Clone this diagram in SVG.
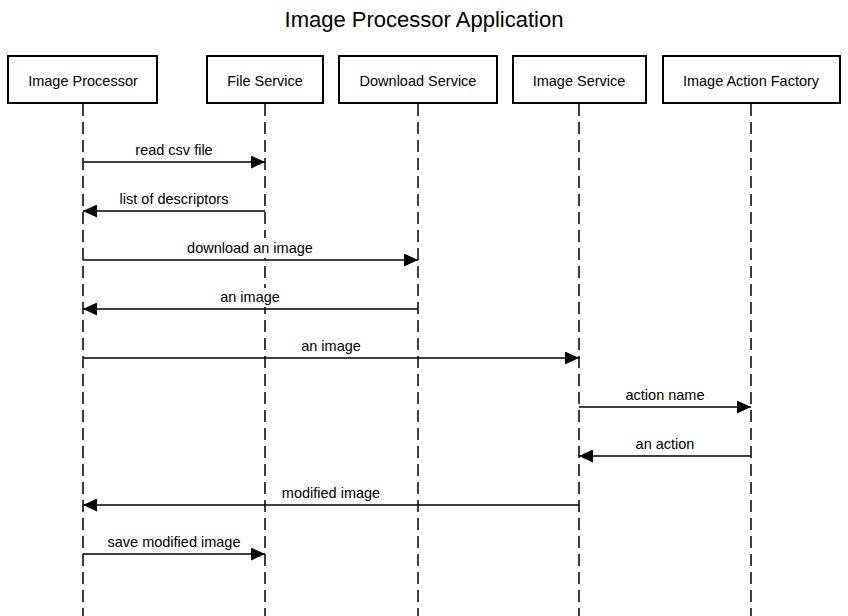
<svg xmlns="http://www.w3.org/2000/svg" width="848" height="616" viewBox="0 0 848 616">
<style>
  text { font-family: "Liberation Sans", Arial, Helvetica, sans-serif; fill: #000; }
  .title { font-size: 22px; text-anchor: middle; }
  .actor rect { fill: #fff; stroke: #000; stroke-width: 2; }
  .actor text { font-size: 14.5px; text-anchor: middle; }
  .life { stroke: #000; stroke-width: 1.5; stroke-dasharray: 12 6; fill: none; }
  .msg line { stroke: #000; stroke-width: 1.5; marker-end: url(#arrow); }
  .msg text { font-size: 14.5px; text-anchor: middle; }
  .msg rect { fill: #fff; stroke: none; }
</style>
<defs>
  <marker id="arrow" markerUnits="userSpaceOnUse" markerWidth="14" markerHeight="13" refX="14" refY="6.5" orient="auto">
    <path d="M0,0 L14,6.5 L0,13 Z" fill="#000"/>
  </marker>
</defs>
<rect width="848" height="616" fill="#fff"/>
<text class="title" x="424" y="27">Image Processor Application</text>

<g id="lifelines">
  <line class="life" x1="83" y1="104" x2="83" y2="616"/>
  <line class="life" x1="265" y1="104" x2="265" y2="616"/>
  <line class="life" x1="418" y1="104" x2="418" y2="616"/>
  <line class="life" x1="579" y1="104" x2="579" y2="616"/>
  <line class="life" x1="751" y1="104" x2="751" y2="616"/>
</g>

<g id="image-processor" class="actor">
  <rect x="8" y="56" width="149" height="47"/>
  <text x="83" y="86">Image Processor</text>
</g>
<g id="file-service" class="actor">
  <rect x="207" y="56" width="116" height="47"/>
  <text x="265" y="86">File Service</text>
</g>
<g id="download-service" class="actor">
  <rect x="339" y="56" width="158" height="47"/>
  <text x="418" y="86">Download Service</text>
</g>
<g id="image-service" class="actor">
  <rect x="513" y="56" width="133" height="47"/>
  <text x="579" y="86">Image Service</text>
</g>
<g id="image-action-factory" class="actor">
  <rect x="663" y="56" width="177" height="47"/>
  <text x="751" y="86">Image Action Factory</text>
</g>

<g id="connectors" class="msg">
  <line x1="83" y1="162" x2="265" y2="162"/>
  <text x="174" y="155">read csv file</text>
  <line x1="265" y1="211" x2="83" y2="211"/>
  <text x="174" y="204">list of descriptors</text>
  <rect x="185" y="238" width="131" height="20"/>
  <line x1="83" y1="260" x2="418" y2="260"/>
  <text x="250" y="253">download an image</text>
  <rect x="218" y="288" width="65" height="19"/>
  <line x1="418" y1="309" x2="83" y2="309"/>
  <text x="250" y="302">an image</text>
  <line x1="83" y1="358" x2="579" y2="358"/>
  <text x="331" y="351">an image</text>
  <line x1="579" y1="407" x2="751" y2="407"/>
  <text x="665" y="400">action name</text>
  <line x1="751" y1="456" x2="579" y2="456"/>
  <text x="665" y="449">an action</text>
  <line x1="579" y1="505" x2="83" y2="505"/>
  <text x="331" y="498">modified image</text>
  <line x1="83" y1="554" x2="265" y2="554"/>
  <text x="174" y="547">save modified image</text>
</g>
</svg>
